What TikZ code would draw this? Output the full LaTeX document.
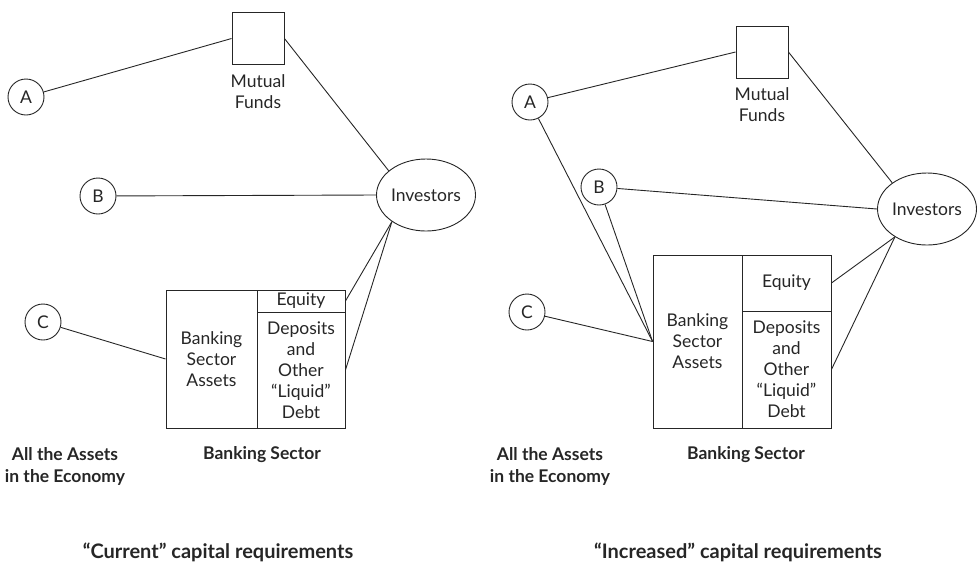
\documentclass[tikz,border=0pt]{standalone}
\usepackage{fontspec}
\setmainfont{Lato}
\usetikzlibrary{shapes.geometric}
\tikzset{
  every node/.style={font=\fontsize{17.5}{21}\selectfont, text=black!85},
  ln/.style={draw=black!85, line width=0.9pt},
  letter/.style={ln, circle, minimum size=36pt, inner sep=0pt},
  fund/.style={ln, rectangle, minimum size=52pt, inner sep=0pt},
  inv/.style={ln, ellipse, minimum width=99pt, minimum height=72pt, inner sep=0pt},
  cell/.style={ln, rectangle, inner sep=0pt, align=center},
  lbl/.style={align=center, inner sep=0pt},
  bold/.style={align=center, inner sep=0pt, font=\fontsize{17.5}{22}\selectfont\bfseries},
  captxt/.style={inner sep=0pt, font=\fontsize{20}{24}\selectfont\bfseries},
}
\begin{document}
\begin{tikzpicture}[x=1pt, y=-1pt]
\useasboundingbox (0,0) rectangle (977,563);
% ---------- left panel ----------
\node[fund] (sqL) at (258,38.5) {};
\node[lbl] (mfL) at (258,92) {Mutual\\Funds};
\node[letter] (aL) at (26,97) {A};
\node[letter] (bL) at (98,196) {B};
\node[letter] (cL) at (43,322) {C};
\node[inv] (invL) at (426,195) {Investors};
\node[cell, minimum width=91pt, minimum height=138pt] (asL) at (211.5,359) {Banking\\Sector\\Assets};
\node[cell, minimum width=88pt, minimum height=22pt] (eqL) at (301,301) {Equity};
\node[cell, minimum width=88pt, minimum height=116pt] (dpL) at (301,370) {Deposits\\and\\Other\\“Liquid”\\Debt};
\node[bold] (allL) at (65,466) {All the Assets\\in the Economy};
\node[bold] (bsL) at (262,455) {Banking Sector};
\node[captxt] (capL) at (218,552) {“Current” capital requirements};
\draw[ln] (aL) -- (sqL.west);
\draw[ln] (sqL.east) -- (invL.147);
\draw[ln] (bL) -- (invL.west);
\draw[ln] (cL) -- (asL.west);
\draw[ln] (invL.218) -- (eqL.east);
\draw[ln] (invL.218) -- (dpL.east);
% ---------- right panel ----------
\node[fund] (sqR) at (762,52) {};
\node[lbl] (mfR) at (762,105) {Mutual\\Funds};
\node[letter] (aR) at (530,102) {A};
\node[letter] (bR) at (599,187) {B};
\node[letter] (cR) at (527,312) {C};
\node[inv] (invR) at (927,209) {Investors};
\node[cell, minimum width=89pt, minimum height=173pt] (asR) at (697.5,341.5) {Banking\\Sector\\Assets};
\node[cell, minimum width=89pt, minimum height=56pt] (eqR) at (786.5,283) {Equity};
\node[cell, minimum width=89pt, minimum height=117pt] (dpR) at (786.5,369.5) {Deposits\\and\\Other\\“Liquid”\\Debt};
\node[bold] (allR) at (550,466) {All the Assets\\in the Economy};
\node[bold] (bsR) at (746,455) {Banking Sector};
\node[captxt] (capR) at (738,552) {“Increased” capital requirements};
\draw[ln] (aR) -- (sqR.west);
\draw[ln] (sqR.east) -- (invR.143);
\draw[ln] (bR) -- (invR.west);
\draw[ln] (aR) -- (asR.west);
\draw[ln] (bR) -- (asR.west);
\draw[ln] (cR) -- (asR.west);
\draw[ln] (invR.221) -- (eqR.east);
\draw[ln] (invR.221) -- (dpR.east);
\end{tikzpicture}
\end{document}
